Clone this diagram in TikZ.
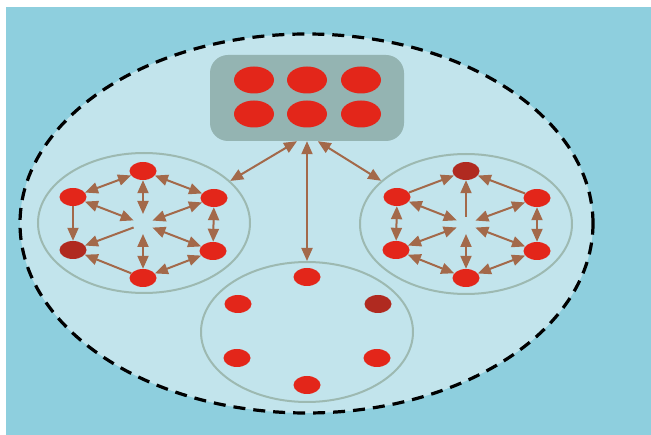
\documentclass[tikz,border=0pt]{standalone}
\usetikzlibrary{shapes.geometric,arrows.meta}

\definecolor{sea}{HTML}{8ECFDE}
\definecolor{pool}{HTML}{C2E4EC}
\definecolor{traygrey}{HTML}{94B4B2}
\definecolor{ring}{HTML}{9DB9B1}
\definecolor{dot}{HTML}{E3261A}
\definecolor{darkdot}{HTML}{B02A20}
\definecolor{link}{HTML}{A3694A}

\tikzset{
    agent/.style={ellipse, fill=dot, minimum width=27pt, minimum height=18pt, inner sep=0pt},
    leader/.style={agent, fill=darkdot},
    bigagent/.style={agent, minimum width=40pt, minimum height=27pt},
    teamring/.style={ellipse, draw=ring, line width=2pt, minimum width=212pt, minimum height=140pt, inner sep=0pt},
    uni/.style={link, line width=2pt, -{Triangle[length=13pt,width=11pt]}},
    bi/.style={link, line width=2pt, {Triangle[length=13pt,width=11pt]}-{Triangle[length=13pt,width=11pt]}},
}

\begin{document}
\begin{tikzpicture}[x=1pt, y=-1pt]
    \useasboundingbox (0,0) rectangle (651,435);
    \fill[white] (0,0) rectangle (651,435);
    \fill[sea] (6,7) rectangle (651,435);
    \node[ellipse, draw=black, fill=pool, line width=3.2pt, dash pattern=on 12pt off 8pt, minimum width=573pt, minimum height=379pt, inner sep=0pt] at (306.5,223.5) (pool) {};

    \node[rectangle, rounded corners=18pt, fill=traygrey, minimum width=194pt, minimum height=86pt] at (307,98) (tray) {};
    \node[bigagent] at (254,80) (t1) {};
    \node[bigagent] at (307,80) (t2) {};
    \node[bigagent] at (361,80) (t3) {};
    \node[bigagent] at (254,114) (t4) {};
    \node[bigagent] at (307,114) (t5) {};
    \node[bigagent] at (361,114) (t6) {};

    \node[teamring] at (144,223) (lc) {};
    \node[teamring] at (466,224) (rc) {};
    \node[teamring] at (307,332) (bc) {};

    \draw[bi] (tray.-103) -- (lc.26);
    \draw[bi] (tray.south) -- (bc.north);
    \draw[bi] (tray.-76) -- (rc.153);

    \node[agent] at (143,171) (lt) {};
    \node[agent] at (73,197) (lul) {};
    \node[agent] at (214,198) (lur) {};
    \node[leader] at (73,250) (lll) {};
    \node[agent] at (213,251) (llr) {};
    \node[agent] at (143,278) (lb) {};
    \coordinate (lcc) at (143,224);
    \draw[bi] (lt) -- (lul);
    \draw[bi] (lt) -- (lur);
    \draw[bi] (lur) -- (llr);
    \draw[bi] (llr) -- (lb);
    \draw[uni] (lb) -- (lll);
    \draw[uni] (lul) -- (lll);
    \draw[bi, shorten >=10pt] (lt) -- (lcc);
    \draw[bi, shorten >=10pt] (lul) -- (lcc);
    \draw[bi, shorten >=10pt] (lur) -- (lcc);
    \draw[bi, shorten >=10pt] (llr) -- (lcc);
    \draw[bi, shorten >=10pt] (lb) -- (lcc);
    \draw[uni, shorten <=10pt] (lcc) -- (lll);

    \node[leader] at (466,171) (rt) {};
    \node[agent] at (397,197) (rul) {};
    \node[agent] at (537,198) (rur) {};
    \node[agent] at (396,250) (rll) {};
    \node[agent] at (537,251) (rlr) {};
    \node[agent] at (466,278) (rb) {};
    \coordinate (rcc) at (466,224);
    \draw[uni] (rul) -- (rt);
    \draw[uni] (rur) -- (rt);
    \draw[bi] (rul) -- (rll);
    \draw[bi] (rur) -- (rlr);
    \draw[bi] (rll) -- (rb);
    \draw[bi] (rb) -- (rlr);
    \draw[uni, shorten <=7pt] (rcc) -- (rt);
    \draw[bi, shorten >=10pt] (rul) -- (rcc);
    \draw[bi, shorten >=10pt] (rur) -- (rcc);
    \draw[bi, shorten >=10pt] (rll) -- (rcc);
    \draw[bi, shorten >=10pt] (rlr) -- (rcc);
    \draw[bi, shorten >=10pt] (rb) -- (rcc);

    \node[agent] at (307,277) (bt) {};
    \node[agent] at (238,304) (bul) {};
    \node[leader] at (378,304) (bur) {};
    \node[agent] at (237,358) (bll) {};
    \node[agent] at (377,358) (blr) {};
    \node[agent] at (307,385) (bb) {};
\end{tikzpicture}
\end{document}
